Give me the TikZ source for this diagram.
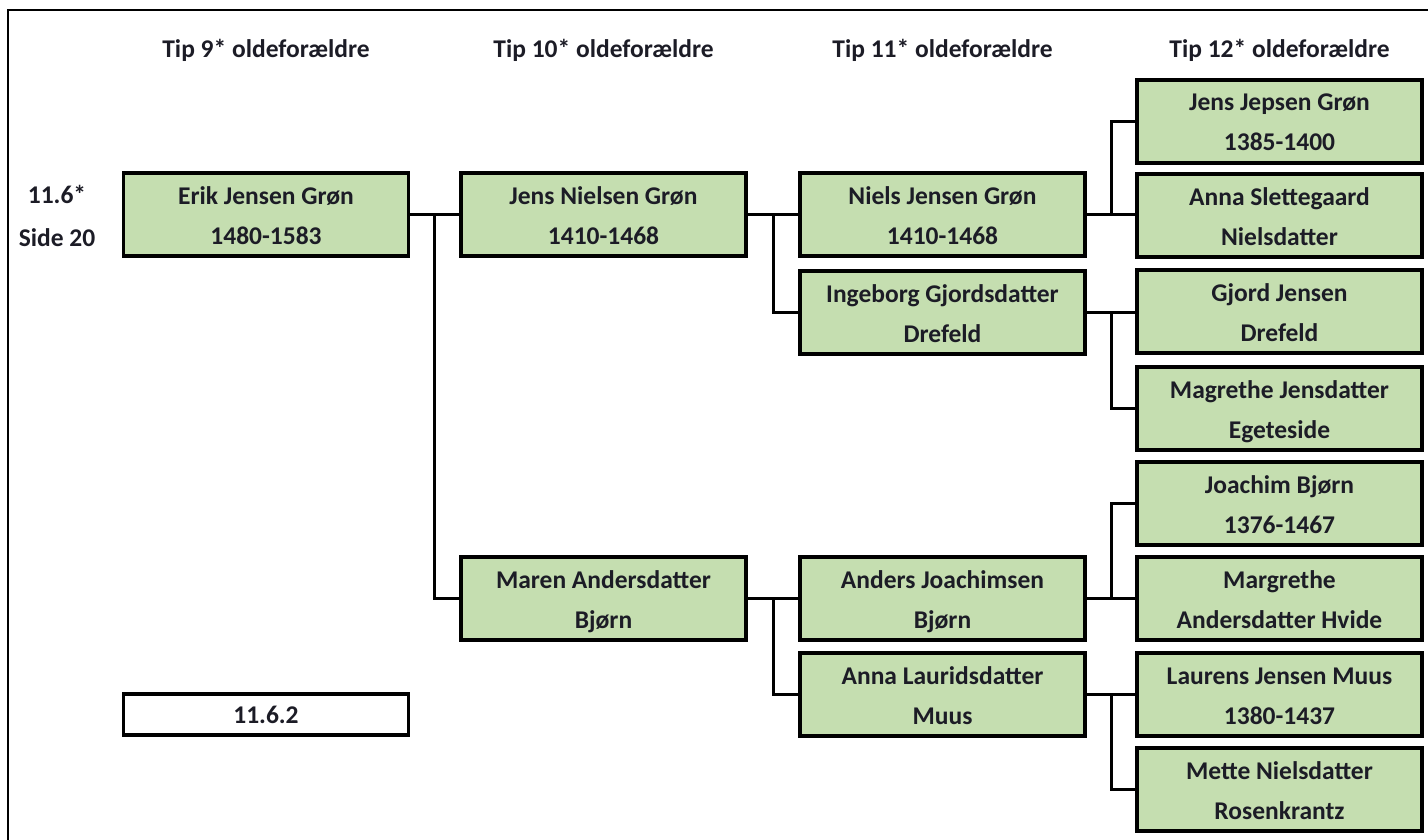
\documentclass[tikz,border=0pt]{standalone}
\usepackage{fontspec}
\setmainfont{Carlito}
\usetikzlibrary{calc}
\definecolor{boxgreen}{RGB}{197,222,176}
\definecolor{ink}{RGB}{28,28,38}
\begin{document}
\begin{tikzpicture}[x=1pt,y=-1pt,
  txt/.style={font=\fontsize{25.5}{40}\selectfont\bfseries, text=ink},
  person/.style={txt, draw=black, line width=3.5pt, fill=boxgreen,
    minimum width=285pt, inner sep=0pt, align=center,
    text height=71pt, text depth=12pt},
  refbox/.style={txt, draw=black, line width=3.5pt, fill=white,
    minimum width=285pt, inner sep=0pt, text height=29pt, text depth=12pt},
  head/.style={txt, anchor=base, inner sep=0pt},
  link/.style={draw=black, line width=3pt},
  frame/.style={draw=black, line width=2.5pt}]
\useasboundingbox (0,0) rectangle (1428,840);
\draw[frame] (8,845) -- (8,10) -- (1435,10);

% headers
\node[head] (h1) at (266,58) {Tip 9* oldeforældre};
\node[head] (h2) at (603.5,58) {Tip 10* oldeforældre};
\node[head] (h3) at (942.5,58) {Tip 11* oldeforældre};
\node[head] (h4) at (1279.5,58) {Tip 12* oldeforældre};

% left labels
\node[head] (l1) at (57,204) {11.6*};
\node[head] (l2) at (57,246) {Side 20};

% column 1
\node[person] (erik) at (266,214.5) {Erik Jensen Grøn\\1480-1583};
\node[refbox] (ref) at (266,714.5) {11.6.2};

% column 2
\node[person] (jensn) at (603.5,214.5) {Jens Nielsen Grøn\\1410-1468};
\node[person] (maren) at (603.5,598.5) {Maren Andersdatter\\Bjørn};

% column 3
\node[person] (niels) at (942.5,214.5) {Niels Jensen Grøn\\1410-1468};
\node[person] (ingeborg) at (942.5,312.5) {Ingeborg Gjordsdatter\\Drefeld};
\node[person] (anders) at (942.5,598.5) {Anders Joachimsen\\Bjørn};
\node[person] (annal) at (942.5,694.5) {Anna Lauridsdatter\\Muus};

% column 4
\node[person] (jensj) at (1279.5,121.5) {Jens Jepsen Grøn\\1385-1400};
\node[person] (annas) at (1279.5,215.5) {Anna Slettegaard\\Nielsdatter};
\node[person] (gjord) at (1279.5,311.5) {Gjord Jensen\\Drefeld};
\node[person] (magrethe) at (1279.5,408.5) {Magrethe Jensdatter\\Egeteside};
\node[person] (joachim) at (1279.5,503.5) {Joachim Bjørn\\1376-1467};
\node[person] (margrethe) at (1279.5,598.5) {Margrethe\\Andersdatter Hvide};
\node[person] (laurens) at (1279.5,694.5) {Laurens Jensen Muus\\1380-1437};
\node[person] (mette) at (1279.5,789.5) {Mette Nielsdatter\\Rosenkrantz};

% connectors
\draw[link] (erik.east) -- (erik.east -| jensn.west);
\coordinate (m1) at ($(erik.east)!0.5!(erik.east -| jensn.west)$);
\draw[link] (m1) |- (maren.west);

\draw[link] (jensn.east) -- (jensn.east -| niels.west);
\coordinate (m2) at ($(jensn.east)!0.5!(jensn.east -| niels.west)$);
\draw[link] (m2) |- (ingeborg.west);

\draw[link] (maren.east) -- (maren.east -| anders.west);
\coordinate (m3) at ($(maren.east)!0.5!(maren.east -| anders.west)$);
\draw[link] (m3) |- (annal.west);

\draw[link] (niels.east) -- (niels.east -| annas.west);
\coordinate (m4) at ($(niels.east)!0.5!(niels.east -| annas.west)$);
\draw[link] (m4) |- (jensj.west);

\draw[link] (ingeborg.east) -- (ingeborg.east -| gjord.west);
\coordinate (m5) at ($(ingeborg.east)!0.5!(ingeborg.east -| gjord.west)$);
\draw[link] (m5) |- (magrethe.west);

\draw[link] (anders.east) -- (anders.east -| margrethe.west);
\coordinate (m6) at ($(anders.east)!0.5!(anders.east -| margrethe.west)$);
\draw[link] (m6) |- (joachim.west);

\draw[link] (annal.east) -- (annal.east -| laurens.west);
\coordinate (m7) at ($(annal.east)!0.5!(annal.east -| laurens.west)$);
\draw[link] (m7) |- (mette.west);
\end{tikzpicture}
\end{document}
